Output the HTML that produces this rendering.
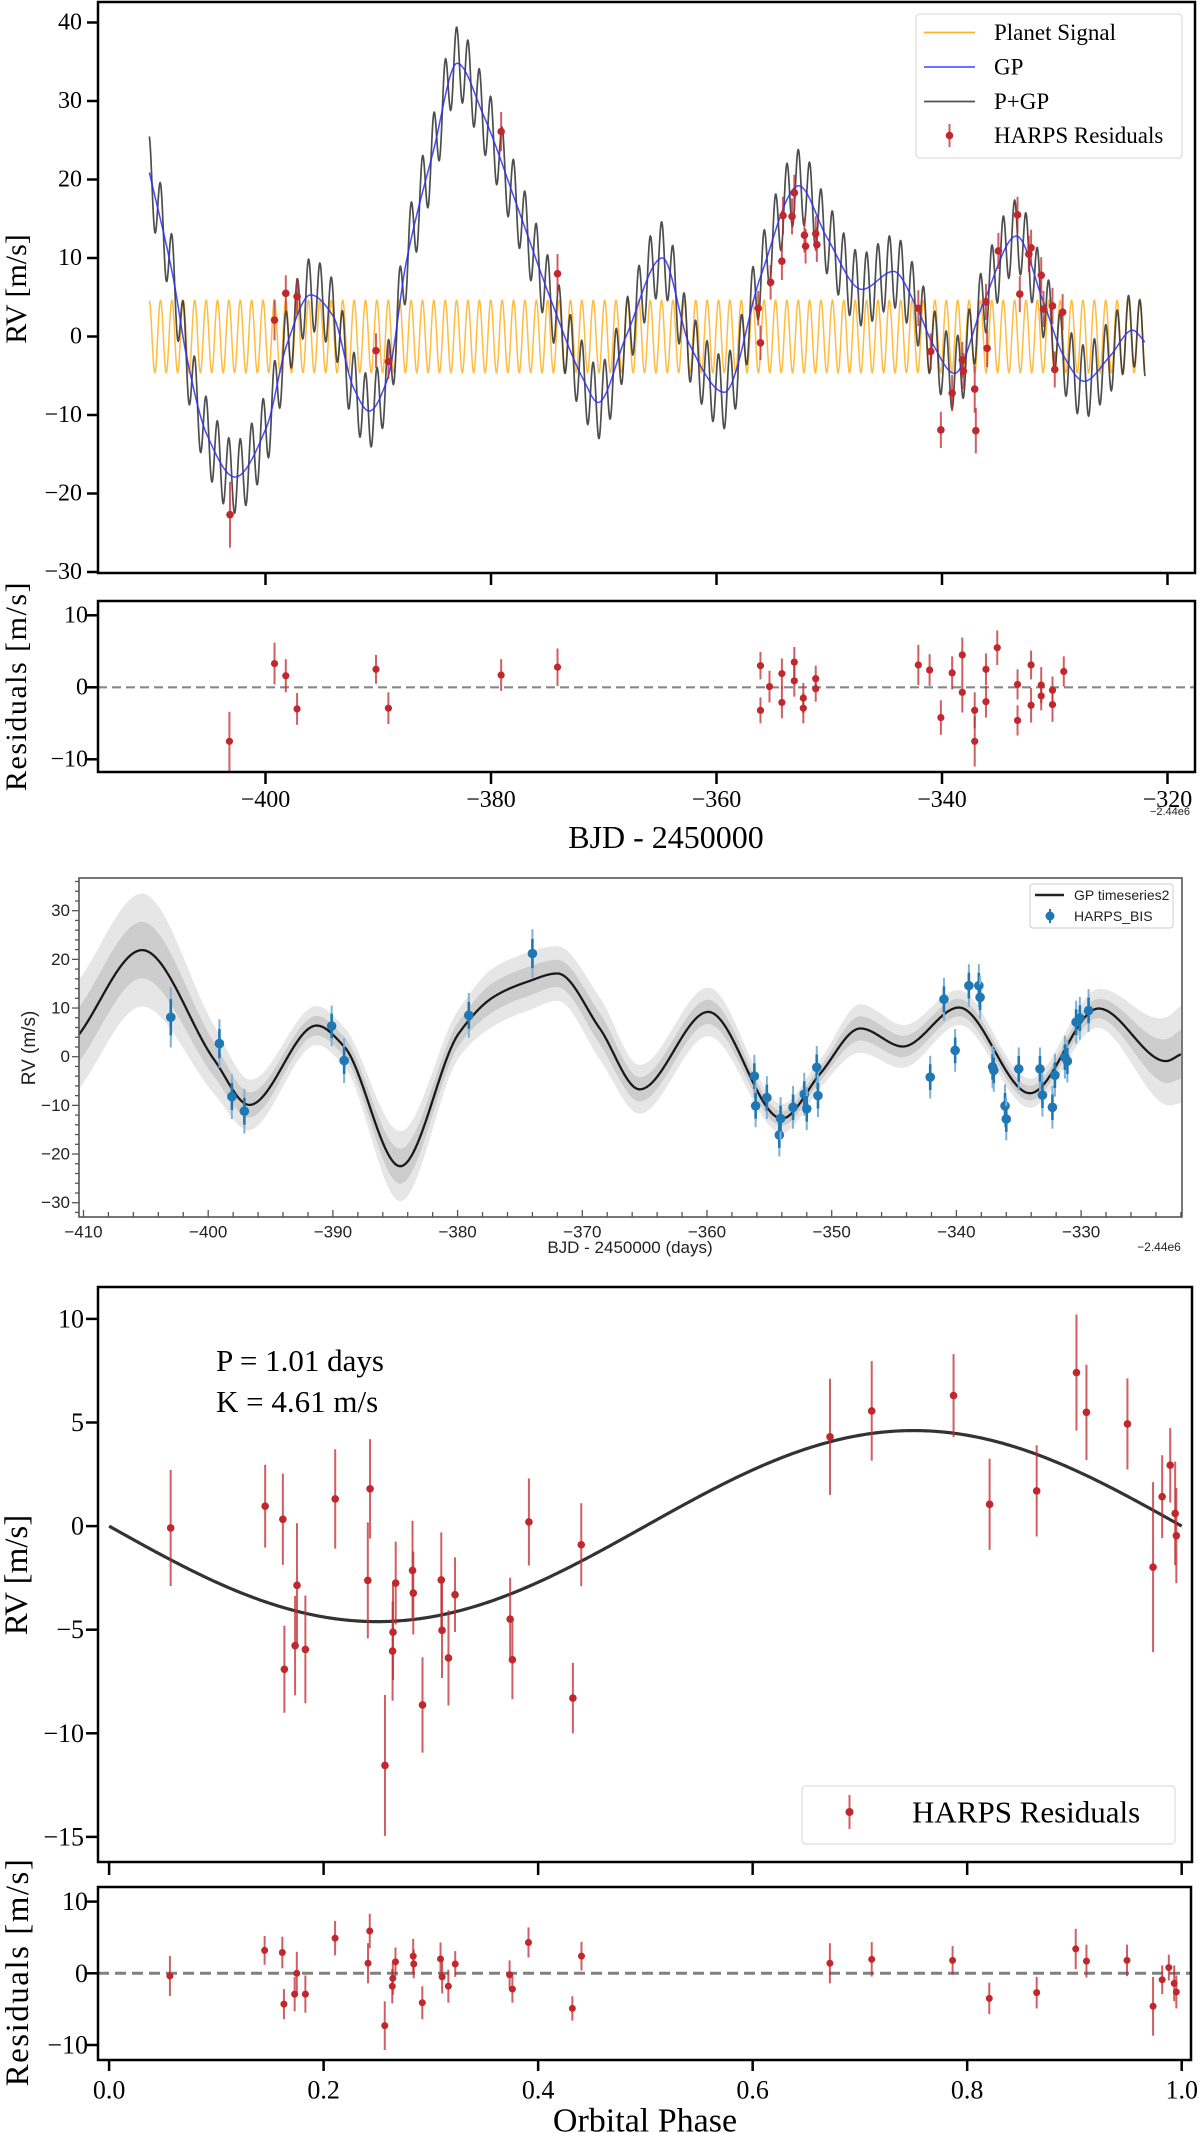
<!DOCTYPE html>
<html><head><meta charset="utf-8"><title>RV fit figure</title>
<style>
html,body{margin:0;padding:0;background:#fff;}
svg{display:block;}
.serif{font-family:"Liberation Serif","Times New Roman",serif;fill:#000;}
.sans{font-family:"Liberation Sans",Arial,sans-serif;fill:#222;}
</style></head>
<body>
<svg id="fig" width="1200" height="2133" viewBox="0 0 1200 2133" xmlns="http://www.w3.org/2000/svg">
<defs>
<clipPath id="c1"><rect x="98" y="2" width="1097" height="571"/></clipPath>
<clipPath id="c2"><rect x="79" y="878" width="1103" height="339"/></clipPath>
<clipPath id="c3"><rect x="98" y="1287" width="1094" height="575"/></clipPath>
</defs>
<rect x="0" y="0" width="1200" height="2133" fill="#fff"/>

<g id="p1">
<g id="p1marks" clip-path="url(#c1)"></g>
<rect x="98" y="2" width="1097" height="571" fill="none" stroke="#000" stroke-width="2.5"/>
<g id="p1ticks"></g>
<text class="serif" font-size="30" transform="translate(26,289) rotate(-90)" text-anchor="middle">RV [m/s]</text>
<g>
<rect x="916" y="14" width="266" height="144" rx="4" fill="#fff" fill-opacity="0.85" stroke="#ddd" stroke-width="1.2"/>
<line x1="924" y1="32.5" x2="975" y2="32.5" stroke="#ffa500" stroke-opacity="0.85" stroke-width="1.8"/>
<text class="serif" x="994" y="32.5" font-size="23" dominant-baseline="central">Planet Signal</text>
<line x1="924" y1="67" x2="975" y2="67" stroke="#3030ff" stroke-opacity="0.8" stroke-width="1.8"/>
<text class="serif" x="994" y="67" font-size="23" dominant-baseline="central">GP</text>
<line x1="924" y1="101.5" x2="975" y2="101.5" stroke="#333" stroke-opacity="0.85" stroke-width="1.8"/>
<text class="serif" x="994" y="101.5" font-size="23" dominant-baseline="central">P+GP</text>
<line x1="949.5" y1="124" x2="949.5" y2="147" stroke="#c0282d" stroke-opacity="0.75" stroke-width="2"/>
<circle cx="949.5" cy="135.5" r="3.8" fill="#c0282d"/>
<text class="serif" x="994" y="135.5" font-size="23" dominant-baseline="central">HARPS Residuals</text>
</g>
</g>

<g id="p1r">
<g id="p1rmarks"></g>
<rect x="98" y="601" width="1097" height="171" fill="none" stroke="#000" stroke-width="2.5"/>
<g id="p1rticks"></g>
<text class="serif" font-size="30" letter-spacing="1.5" transform="translate(26,686) rotate(-90)" text-anchor="middle">Residuals [m/s]</text>
<text class="serif" x="666" y="837" font-size="32" text-anchor="middle" dominant-baseline="central">BJD - 2450000</text>
<text class="sans" x="1170" y="815" font-size="11" text-anchor="middle" fill="#000">−2.44e6</text>
</g>

<g id="p2">
<g id="p2marks" clip-path="url(#c2)"></g>
<rect x="79" y="878" width="1103" height="339" fill="none" stroke="#555" stroke-width="1.6"/>
<g id="p2ticks"></g>
<text class="sans" font-size="19" transform="translate(35,1048) rotate(-90)" text-anchor="middle">RV (m/s)</text>
<text class="sans" x="630" y="1253" font-size="17" text-anchor="middle">BJD - 2450000 (days)</text>
<text class="sans" x="1159" y="1251" font-size="12" text-anchor="middle">−2.44e6</text>
<g>
<rect x="1030" y="884" width="143" height="44" rx="3" fill="#fff" fill-opacity="0.85" stroke="#ccc" stroke-width="1"/>
<line x1="1035" y1="895" x2="1064" y2="895" stroke="#222" stroke-width="2.5"/>
<text class="sans" x="1074" y="895" font-size="14" dominant-baseline="central">GP timeseries2</text>
<line x1="1050" y1="909" x2="1050" y2="923" stroke="#1f77b4" stroke-width="2"/>
<circle cx="1050" cy="916" r="4.5" fill="#1f77b4"/>
<text class="sans" x="1074" y="916" font-size="14" dominant-baseline="central">HARPS_BIS</text>
</g>
</g>

<g id="p3">
<g id="p3marks" clip-path="url(#c3)"></g>
<rect x="98" y="1287" width="1094" height="575" fill="none" stroke="#000" stroke-width="2.5"/>
<g id="p3ticks"></g>
<text class="serif" font-size="33" transform="translate(27,1575) rotate(-90)" text-anchor="middle">RV [m/s]</text>
<text class="serif" x="216" y="1371" font-size="31">P = 1.01 days</text>
<text class="serif" x="216" y="1412" font-size="31">K = 4.61 m/s</text>
<g>
<rect x="802" y="1786" width="373" height="58" rx="4" fill="#fff" fill-opacity="0.85" stroke="#ddd" stroke-width="1.2"/>
<line x1="849.5" y1="1795" x2="849.5" y2="1829" stroke="#c0282d" stroke-opacity="0.75" stroke-width="2"/>
<circle cx="849.5" cy="1812" r="4" fill="#c0282d"/>
<text class="serif" x="912" y="1812" font-size="31" dominant-baseline="central">HARPS Residuals</text>
</g>
</g>

<g id="p3r">
<g id="p3rmarks"></g>
<rect x="98" y="1887" width="1093" height="173" fill="none" stroke="#000" stroke-width="2.5"/>
<g id="p3rticks"></g>
<text class="serif" font-size="33" letter-spacing="1.5" transform="translate(28,1972) rotate(-90)" text-anchor="middle">Residuals [m/s]</text>
<text class="serif" x="645" y="2121" font-size="34" text-anchor="middle" dominant-baseline="central">Orbital Phase</text>
</g>
</svg>

<script>
const rvDays = [-403.15,-399.2,-398.2,-397.2,-390.2,-389.1,-379.1,-374.1,-356.3,-356.1,-355.2,-354.2,-354.1,-353.3,-353.1,-352.2,-352.1,-351.2,-351.1,-342.1,-341.0,-340.1,-339.1,-338.2,-338.1,-337.1,-337.0,-336.1,-336.0,-335.0,-333.3,-333.1,-332.3,-332.1,-331.2,-331.0,-330.2,-330.0,-329.3];
const rvVals = [-22.7,2.1,5.5,5.1,-1.8,-3.2,26.1,8.0,3.6,-0.8,6.9,9.6,15.4,15.3,18.3,12.9,11.5,13.1,11.7,3.6,-1.9,-11.9,-7.2,-3.0,-4.4,-6.7,-12.0,4.4,-1.5,10.9,15.5,5.4,10.5,11.3,7.8,3.5,3.9,-4.2,3.1];
const rvErrs = [4.2,2.6,2.3,2.3,2.2,2.2,2.5,2.5,2.2,2.2,2.2,2.4,2.4,2.3,2.3,2.2,2.2,2.2,2.2,2.3,2.3,2.3,2.3,2.3,2.3,3.0,2.9,2.3,2.4,2.3,2.3,2.3,2.3,2.3,2.3,2.3,2.3,2.3,2.3];
const resDays = [-403.2,-399.2,-398.2,-397.2,-390.2,-389.1,-379.1,-374.1,-356.1,-356.1,-355.3,-354.2,-354.2,-353.1,-353.1,-352.3,-352.3,-351.2,-351.2,-342.1,-341.1,-340.1,-339.1,-338.2,-338.2,-337.1,-337.1,-336.1,-336.1,-335.1,-333.3,-333.3,-332.1,-332.1,-331.2,-331.2,-330.2,-330.2,-329.2];
const resVals = [-7.5,3.3,1.6,-3.0,2.5,-2.9,1.7,2.8,3.0,-3.2,0.1,1.9,-2.1,3.5,0.9,-1.5,-2.9,1.2,-0.2,3.1,2.4,-4.2,2.0,4.5,-0.7,-3.2,-7.5,2.5,-2.0,5.5,0.4,-4.6,3.1,-2.5,0.3,-1.2,-0.4,-2.4,2.2];
const resErrs = [4.1,2.9,2.3,2.2,2.0,2.2,2.2,2.6,1.9,1.8,2.2,2.1,2.2,2.1,2.2,2.1,2.1,1.8,1.8,2.8,2.2,2.4,2.3,2.4,2.8,2.5,3.5,2.2,2.2,2.4,2.1,2.1,2.0,2.4,2.5,2.0,1.9,2.4,2.1];
const gpDays = [-410.3,-408.2,-407.0,-405.2,-402.7,-399.9,-398.1,-396.0,-394.0,-392.2,-390.8,-389.2,-387.5,-385.1,-383.0,-380.7,-377.7,-374.8,-371.8,-370.5,-368.0,-364.8,-362.4,-359.3,-356.1,-352.7,-350.2,-347.1,-344.3,-342.3,-340.8,-338.9,-336.3,-333.4,-331.0,-329.2,-327.4,-325.1,-323.1,-322.0];
const gpVals = [20.9,7.6,-2.5,-12.5,-17.9,-11.5,-1.0,5.3,2.6,-6.5,-9.5,-5.5,9.6,23.7,34.8,28.3,16.7,5.1,-5.5,-8.4,0.1,10.0,-1.0,-7.1,7.6,19.2,12.6,6.0,8.3,3.9,-1.0,-4.7,4.4,12.8,4.4,-2.5,-5.7,-2.5,0.8,-0.7];
const planetK = [4.61];
const planetP = [1.01];
const planetT0 = [-408.3];
const p1YTicks = [40,30,20,10,0,-10,-20,-30];
const p1XTicks = [-400,-380,-360,-340,-320];
const p1XLabels = ["−400","−380","−360","−340","−320"];
const p1rYTicks = [10,0,-10];

const bisDays = [-403.0,-399.1,-398.1,-397.1,-390.1,-389.1,-379.1,-374.0,-356.2,-356.1,-355.2,-354.2,-354.1,-353.1,-352.2,-352.0,-351.2,-351.1,-342.1,-341.0,-340.1,-339.0,-338.2,-338.1,-337.1,-337.0,-336.1,-336.0,-335.0,-333.3,-333.1,-332.3,-332.1,-331.3,-331.1,-330.4,-330.1,-329.4];
const bisVals = [8.1,2.7,-8.2,-11.2,6.3,-0.8,8.5,21.2,-4.0,-10.1,-8.4,-16.1,-12.7,-10.4,-7.7,-10.7,-2.2,-8.0,-4.2,11.8,1.3,14.6,14.6,12.2,-2.1,-2.8,-10.1,-12.8,-2.5,-2.5,-7.9,-10.4,-3.8,-0.1,-0.9,7.1,7.9,9.5];
const bisErrs = [6.2,5.0,4.6,4.6,4.2,4.6,4.6,5.0,4.4,4.4,4.4,4.4,4.4,4.4,4.4,4.4,4.4,4.4,4.4,4.4,4.4,4.4,4.4,4.4,4.4,4.4,4.4,4.4,4.4,4.4,4.4,4.4,4.4,4.4,4.4,4.4,4.4,4.4];
const gp2Days = [-410.35,-405.3,-399.5,-396.7,-391.3,-389.1,-384.6,-379.9,-377.1,-374.4,-372.0,-368.6,-365.4,-359.9,-354.0,-350.9,-347.7,-344.3,-339.8,-334.1,-328.6,-323.2,-322.0];
const gp2Vals = [4.6,21.9,-0.7,-9.9,6.4,2.1,-22.5,4.8,12.3,15.4,17.1,5.8,-6.7,9.2,-12.7,-3.4,5.8,2.1,10.1,-7.5,9.9,-0.9,0.5];
const gp2Sig = [5.6,5.8,3.5,2.6,2.0,2.0,3.6,2.5,3.0,3.0,2.8,3.2,2.5,2.5,1.5,1.5,2.5,2.2,1.8,1.5,2.0,4.5,5.0];
const p2XTicks = [-410,-400,-390,-380,-370,-360,-350,-340,-330];
const p2XLabels = ["−410","−400","−390","−380","−370","−360","−350","−340","−330"];
const p2YTicks = [30,20,10,0,-10,-20,-30];
const p2YLabels = ["30","20","10","0","−10","−20","−30"];

const phases = [0.0574,0.1455,0.162,0.1634,0.1734,0.1752,0.183,0.2108,0.2412,0.2433,0.2572,0.2643,0.2647,0.2672,0.2829,0.2836,0.2922,0.3097,0.3104,0.3164,0.3225,0.3739,0.376,0.3914,0.4324,0.4402,0.6721,0.711,0.7873,0.8209,0.8648,0.9019,0.9112,0.9494,0.9733,0.9818,0.9893,0.9939,0.995];
const phaseVals = [-0.09,0.96,0.33,-6.91,-5.77,-2.86,-5.95,1.31,-2.62,1.8,-11.55,-6.03,-5.12,-2.75,-2.14,-3.23,-8.63,-2.6,-5.03,-6.36,-3.31,-4.49,-6.45,0.2,-8.3,-0.9,4.31,5.56,6.3,1.05,1.7,7.41,5.49,4.93,-1.98,1.42,2.94,0.61,-0.46];
const phaseErrs = [2.8,2.0,2.2,2.1,2.4,3.0,2.6,2.4,2.8,2.4,3.4,2.4,2.3,2.0,2.4,2.0,2.3,2.3,2.3,2.3,1.8,2.0,1.9,2.1,1.7,2.0,2.8,2.4,2.0,2.2,2.2,2.8,2.3,2.2,4.1,2.0,1.8,2.5,2.3];
const resPhases = [0.0567,0.145,0.1615,0.163,0.173,0.175,0.183,0.2107,0.2414,0.243,0.257,0.264,0.2645,0.267,0.2835,0.284,0.292,0.309,0.3105,0.3163,0.3227,0.3734,0.376,0.391,0.4319,0.4404,0.672,0.711,0.7864,0.8206,0.8648,0.9012,0.9112,0.949,0.9733,0.9818,0.988,0.993,0.995];
const resPhaseVals = [-0.37,3.2,2.9,-4.3,-2.9,0.0,-2.9,4.9,1.4,5.9,-7.3,-1.8,-0.7,1.6,2.4,1.3,-4.1,2.0,-0.5,-1.8,1.3,-0.2,-2.2,4.3,-4.9,2.4,1.4,1.95,1.8,-3.5,-2.7,3.4,1.7,1.8,-4.6,-0.9,0.8,-1.4,-2.6];
const resPhaseErrs = [2.8,2.0,2.2,2.1,2.4,3.0,2.6,2.4,2.8,2.4,3.4,2.4,2.3,2.0,2.4,2.0,2.3,2.3,2.3,2.3,1.8,2.0,1.9,2.1,1.7,2.0,2.8,2.4,2.0,2.2,2.2,2.8,2.3,2.2,4.1,2.0,1.8,2.5,2.3];
const p3YTicks = [10,5,0,-5,-10,-15];
const p3YLabels = ["10","5","0","−5","−10","−15"];
const p3XTicks = [0,0.2,0.4,0.6,0.8,1.0];
const p3XLabels = ["0.0","0.2","0.4","0.6","0.8","1.0"];
const p3rYTicks = [10,0,-10];

const NS = "http://www.w3.org/2000/svg";
function mk(parent, tag, attrs){
  const e = document.createElementNS(NS, tag);
  for (const k in attrs) e.setAttribute(k, attrs[k]);
  parent.appendChild(e);
  return e;
}
function lin(d0,d1,r0,r1){ return v => r0 + (v-d0)*(r1-r0)/(d1-d0); }
function pchip(xs, ys){
  const n = xs.length, h=[], d=[], m=new Array(n);
  for (let i=0;i<n-1;i++){ h[i]=xs[i+1]-xs[i]; d[i]=(ys[i+1]-ys[i])/h[i]; }
  m[0]=d[0]; m[n-1]=d[n-2];
  for (let i=1;i<n-1;i++){
    if (d[i-1]*d[i] <= 0) m[i]=0;
    else { const w1=2*h[i]+h[i-1], w2=h[i]+2*h[i-1]; m[i]=(w1+w2)/(w1/d[i-1]+w2/d[i]); }
  }
  return x => {
    let i=0; while (i<n-2 && x>xs[i+1]) i++;
    const t=(x-xs[i])/h[i], t2=t*t, t3=t2*t;
    return (2*t3-3*t2+1)*ys[i] + (t3-2*t2+t)*h[i]*m[i] + (-2*t3+3*t2)*ys[i+1] + (t3-t2)*h[i]*m[i+1];
  };
}
function pathFrom(pts){ return pts.map((p,i)=>(i?"L":"M")+p[0].toFixed(2)+","+p[1].toFixed(2)).join(""); }

const x1 = lin(-400,-320,265.5,1167.5);
const y1 = lin(0,10,336.5,258);
const y1r = lin(0,10,687.3,615.3);
const g1 = document.getElementById("p1marks");
const gp1 = pchip(gpDays, gpVals);
const planet = t => planetK[0]*Math.cos(2*Math.PI*(t-planetT0[0])/planetP[0]);
const t0 = gpDays[0], t1 = gpDays[gpDays.length-1];
let ptsPl=[], ptsGp=[], ptsSum=[];
for (let t=t0; t<=t1+1e-9; t+=0.02){
  const g = gp1(t), p = planet(t);
  ptsPl.push([x1(t), y1(p)]); ptsGp.push([x1(t), y1(g)]); ptsSum.push([x1(t), y1(g+p)]);
}
const plLine = mk(g1,"path",{d:pathFrom(ptsPl),fill:"none",stroke:"#ffa500","stroke-opacity":"0.75","stroke-width":"1.5"});


const sumLine = mk(g1,"path",{d:pathFrom(ptsSum),fill:"none",stroke:"#222","stroke-opacity":"0.8","stroke-width":"1.7"});


const gpLine = mk(g1,"path",{d:pathFrom(ptsGp),fill:"none",stroke:"#2a2aff","stroke-opacity":"0.85","stroke-width":"1.5"});


for (let i=0;i<rvDays.length;i++){
  const eb = mk(g1,"line",{x1:x1(rvDays[i]),x2:x1(rvDays[i]),y1:y1(rvVals[i]-rvErrs[i]),y2:y1(rvVals[i]+rvErrs[i]),stroke:"#c0282d","stroke-opacity":"0.75","stroke-width":"2"});
  
  
  const c = mk(g1,"circle",{cx:x1(rvDays[i]),cy:y1(rvVals[i]),r:3.8,fill:"#c0282d"});
  
  
}
const t1g = document.getElementById("p1ticks");
p1YTicks.forEach(v=>{
  const tk = mk(t1g,"line",{x1:87,x2:98,y1:y1(v),y2:y1(v),stroke:"#000","stroke-width":"2.5"});
  
  
  const lb = mk(t1g,"text",{x:82,y:y1(v),"text-anchor":"end","dominant-baseline":"central","font-size":"24",class:"serif"});
  lb.textContent = v<0 ? "−"+Math.abs(v) : String(v);
  
  
});
p1XTicks.forEach(v=>{
  const tk = mk(t1g,"line",{x1:x1(v),x2:x1(v),y1:573,y2:585,stroke:"#000","stroke-width":"2.5"});
  
  
});

const g1r = document.getElementById("p1rmarks");
const z1 = mk(g1r,"line",{x1:98,x2:1195,y1:y1r(0),y2:y1r(0),stroke:"#888","stroke-width":"2.2","stroke-dasharray":"9,5"});


for (let i=0;i<resDays.length;i++){
  const eb = mk(g1r,"line",{x1:x1(resDays[i]),x2:x1(resDays[i]),y1:y1r(resVals[i]-resErrs[i]),y2:y1r(resVals[i]+resErrs[i]),stroke:"#c0282d","stroke-opacity":"0.75","stroke-width":"2"});
  
  
  const c = mk(g1r,"circle",{cx:x1(resDays[i]),cy:y1r(resVals[i]),r:3.6,fill:"#c0282d"});
  
  
}
const t1r = document.getElementById("p1rticks");
p1rYTicks.forEach(v=>{
  const tk = mk(t1r,"line",{x1:87,x2:98,y1:y1r(v),y2:y1r(v),stroke:"#000","stroke-width":"2.5"});
  
  
  const lb = mk(t1r,"text",{x:88,y:y1r(v),"text-anchor":"end","dominant-baseline":"central","font-size":"24",class:"serif"});
  lb.textContent = v<0 ? "−"+Math.abs(v) : String(v);
  
  
});
p1XTicks.forEach((v,i)=>{
  const tk = mk(t1r,"line",{x1:x1(v),x2:x1(v),y1:772,y2:784,stroke:"#000","stroke-width":"2.5"});
  
  
  const lb = mk(t1r,"text",{x:x1(v),y:800,"text-anchor":"middle","dominant-baseline":"central","font-size":"24",class:"serif"});
  lb.textContent = p1XLabels[i];
  
  
});

const x2 = lin(-410,-330,83.5,1081.1);
const y2 = lin(0,10,1056.7,1008.03);
const g2 = document.getElementById("p2marks");
const gpm = pchip(gp2Days, gp2Vals), gps = pchip(gp2Days, gp2Sig);
let mean=[], up2=[], lo2=[], up1=[], lo1=[];
for (let t=gp2Days[0]; t<=gp2Days[gp2Days.length-1]+1e-9; t+=0.05){
  const m = gpm(t), s = gps(t), X = x2(t);
  mean.push([X,y2(m)]); up2.push([X,y2(m+2*s)]); lo2.push([X,y2(m-2*s)]); up1.push([X,y2(m+s)]); lo1.push([X,y2(m-s)]);
}
const band2 = mk(g2,"path",{d:pathFrom(up2.concat(lo2.slice().reverse()))+"Z",fill:"#e6e6e6"});


const band1 = mk(g2,"path",{d:pathFrom(up1.concat(lo1.slice().reverse()))+"Z",fill:"#cdcdcd"});


const meanLine = mk(g2,"path",{d:pathFrom(mean),fill:"none",stroke:"#1a1a1a","stroke-width":"2.3"});


for (let i=0;i<bisDays.length;i++){
  const X = x2(bisDays[i]);
  const eo = mk(g2,"line",{x1:X,x2:X,y1:y2(bisVals[i]-bisErrs[i]),y2:y2(bisVals[i]+bisErrs[i]),stroke:"#7fb0d6","stroke-width":"2"});
  
  
  const ei = mk(g2,"line",{x1:X,x2:X,y1:y2(bisVals[i]-0.6*bisErrs[i]),y2:y2(bisVals[i]+0.6*bisErrs[i]),stroke:"#1f77b4","stroke-width":"2.6"});
  
  
  const c = mk(g2,"circle",{cx:X,cy:y2(bisVals[i]),r:4.8,fill:"#1f77b4"});
  
  
}
const t2g = document.getElementById("p2ticks");
for (let v=-410; v<=-322; v+=2){
  const major = (v%10===0);
  const tk = mk(t2g,"line",{x1:x2(v),x2:x2(v),y1:1217,y2:major?1210:1212,stroke:"#555","stroke-width":"1.3"});
  
  
}
for (let v=-32; v<=36; v+=2){
  const major = (v%10===0);
  const tk = mk(t2g,"line",{x1:79,x2:major?72:75,y1:y2(v),y2:y2(v),stroke:"#555","stroke-width":"1.3"});
  
  
}
p2XTicks.forEach((v,i)=>{
  const lb = mk(t2g,"text",{x:x2(v),y:1232,"text-anchor":"middle","dominant-baseline":"central","font-size":"17",class:"sans"});
  lb.textContent = p2XLabels[i];
  
  
});
p2YTicks.forEach((v,i)=>{
  const lb = mk(t2g,"text",{x:70,y:y2(v),"text-anchor":"end","dominant-baseline":"central","font-size":"17",class:"sans"});
  lb.textContent = p2YLabels[i];
  
  
});

const x3 = lin(0,1,109.1,1181.7);
const y3 = lin(0,10,1526.1,1318.9);
const y3r = lin(0,10,1973.3,1901.6);
const g3 = document.getElementById("p3marks");
let mp=[];
for (let f=0; f<=1.0001; f+=0.002){ mp.push([x3(f), y3(-planetK[0]*Math.sin(2*Math.PI*f))]); }
const kep = mk(g3,"path",{d:pathFrom(mp),fill:"none",stroke:"#333","stroke-width":"3.2"});


for (let i=0;i<phases.length;i++){
  const X = x3(phases[i]);
  const eb = mk(g3,"line",{x1:X,x2:X,y1:y3(phaseVals[i]-phaseErrs[i]),y2:y3(phaseVals[i]+phaseErrs[i]),stroke:"#c0282d","stroke-opacity":"0.75","stroke-width":"2"});
  
  
  const c = mk(g3,"circle",{cx:X,cy:y3(phaseVals[i]),r:3.8,fill:"#c0282d"});
  
  
}
const t3g = document.getElementById("p3ticks");
p3YTicks.forEach((v,i)=>{
  const tk = mk(t3g,"line",{x1:86,x2:98,y1:y3(v),y2:y3(v),stroke:"#000","stroke-width":"2.5"});
  
  
  const lb = mk(t3g,"text",{x:84,y:y3(v),"text-anchor":"end","dominant-baseline":"central","font-size":"26",class:"serif"});
  lb.textContent = p3YLabels[i];
  
  
});
p3XTicks.forEach(v=>{
  const tk = mk(t3g,"line",{x1:x3(v),x2:x3(v),y1:1862,y2:1875,stroke:"#000","stroke-width":"2.5"});
  
  
});

const g3r = document.getElementById("p3rmarks");
const z3 = mk(g3r,"line",{x1:98,x2:1191,y1:y3r(0),y2:y3r(0),stroke:"#808080","stroke-width":"3","stroke-dasharray":"11,6"});


for (let i=0;i<resPhases.length;i++){
  const X = x3(resPhases[i]);
  const eb = mk(g3r,"line",{x1:X,x2:X,y1:y3r(resPhaseVals[i]-resPhaseErrs[i]),y2:y3r(resPhaseVals[i]+resPhaseErrs[i]),stroke:"#c0282d","stroke-opacity":"0.75","stroke-width":"2"});
  
  
  const c = mk(g3r,"circle",{cx:X,cy:y3r(resPhaseVals[i]),r:3.5,fill:"#c0282d"});
  
  
}
const t3r = document.getElementById("p3rticks");
p3rYTicks.forEach(v=>{
  const tk = mk(t3r,"line",{x1:87,x2:98,y1:y3r(v),y2:y3r(v),stroke:"#000","stroke-width":"2.5"});
  
  
  const lb = mk(t3r,"text",{x:88,y:y3r(v),"text-anchor":"end","dominant-baseline":"central","font-size":"26",class:"serif"});
  lb.textContent = v<0 ? "−"+Math.abs(v) : String(v);
  
  
});
p3XTicks.forEach((v,i)=>{
  const tk = mk(t3r,"line",{x1:x3(v),x2:x3(v),y1:2060,y2:2071,stroke:"#000","stroke-width":"2.5"});
  
  
  const lb = mk(t3r,"text",{x:x3(v),y:2090,"text-anchor":"middle","dominant-baseline":"central","font-size":"26",class:"serif"});
  lb.textContent = p3XLabels[i];
  
  
});
</script>
</body></html>
